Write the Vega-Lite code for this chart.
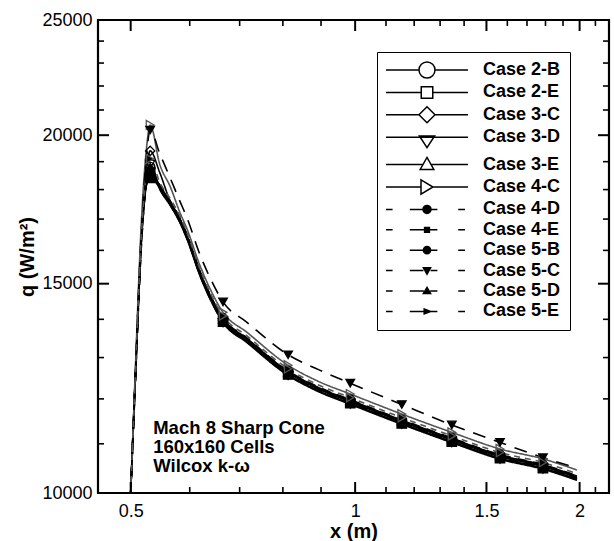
{
  "$schema": "https://vega.github.io/schema/vega-lite/v6.json",
  "width": 511,
  "height": 473,
  "autosize": {"type": "none"},
  "padding": {"left": 98, "top": 20, "right": 5, "bottom": 48},
  "background": "white",
  "datasets": {
    "curves": [
      {"x": 0.5, "Case 2-B": 10000, "Case 2-E": 10000, "Case 3-C": 10000, "Case 3-D": 10000, "Case 3-E": 10000, "Case 4-C": 10000, "Case 4-D": 10000, "Case 4-E": 10000, "Case 5-B": 10000, "Case 5-C": 10000, "Case 5-D": 10000, "Case 5-E": 10000},
      {"x": 0.507, "Case 2-B": 12400, "Case 2-E": 12350, "Case 3-C": 12500, "Case 3-D": 12400, "Case 3-E": 12380, "Case 4-C": 12600, "Case 4-D": 12300, "Case 4-E": 12300, "Case 5-B": 12450, "Case 5-C": 12500, "Case 5-D": 12420, "Case 5-E": 12480},
      {"x": 0.517, "Case 2-B": 16400, "Case 2-E": 16300, "Case 3-C": 16600, "Case 3-D": 16450, "Case 3-E": 16380, "Case 4-C": 17000, "Case 4-D": 16200, "Case 4-E": 16250, "Case 5-B": 16500, "Case 5-C": 16700, "Case 5-D": 16420, "Case 5-E": 16550},
      {"x": 0.525, "Case 2-B": 18300, "Case 2-E": 18200, "Case 3-C": 18700, "Case 3-D": 18350, "Case 3-E": 18250, "Case 4-C": 19500, "Case 4-D": 18200, "Case 4-E": 18150, "Case 5-B": 18300, "Case 5-C": 19200, "Case 5-D": 18320, "Case 5-E": 18600},
      {"x": 0.531, "Case 2-B": 18800, "Case 2-E": 18600, "Case 3-C": 19400, "Case 3-D": 18900, "Case 3-E": 18700, "Case 4-C": 20400, "Case 4-D": 18500, "Case 4-E": 18400, "Case 5-B": 18600, "Case 5-C": 20200, "Case 5-D": 18800, "Case 5-E": 19100},
      {"x": 0.547, "Case 2-B": 18100, "Case 2-E": 18046, "Case 3-C": 18600, "Case 3-D": 18010, "Case 3-E": 18136, "Case 4-C": 18900, "Case 4-D": 18118, "Case 4-E": 18064, "Case 5-B": 18172, "Case 5-C": 19300, "Case 5-D": 18028, "Case 5-E": 18245},
      {"x": 0.565, "Case 2-B": 17540, "Case 2-E": 17487, "Case 3-C": 17593, "Case 3-D": 17452, "Case 3-E": 17575, "Case 4-C": 18100, "Case 4-D": 17558, "Case 4-E": 17505, "Case 5-B": 17610, "Case 5-C": 18400, "Case 5-D": 17470, "Case 5-E": 17680},
      {"x": 0.582, "Case 2-B": 16970, "Case 2-E": 16919, "Case 3-C": 17021, "Case 3-D": 16885, "Case 3-E": 17004, "Case 4-C": 17225, "Case 4-D": 16987, "Case 4-E": 16936, "Case 5-B": 17038, "Case 5-C": 17600, "Case 5-D": 16902, "Case 5-E": 17106},
      {"x": 0.595, "Case 2-B": 16430, "Case 2-E": 16381, "Case 3-C": 16479, "Case 3-D": 16348, "Case 3-E": 16463, "Case 4-C": 16676, "Case 4-D": 16446, "Case 4-E": 16397, "Case 5-B": 16496, "Case 5-C": 17040, "Case 5-D": 16364, "Case 5-E": 16561},
      {"x": 0.619, "Case 2-B": 15320, "Case 2-E": 15274, "Case 3-C": 15366, "Case 3-D": 15243, "Case 3-E": 15351, "Case 4-C": 15550, "Case 4-D": 15335, "Case 4-E": 15289, "Case 5-B": 15381, "Case 5-C": 15880, "Case 5-D": 15259, "Case 5-E": 15443},
      {"x": 0.639, "Case 2-B": 14630, "Case 2-E": 14586, "Case 3-C": 14674, "Case 3-D": 14557, "Case 3-E": 14659, "Case 4-C": 14849, "Case 4-D": 14645, "Case 4-E": 14601, "Case 5-B": 14689, "Case 5-C": 15170, "Case 5-D": 14571, "Case 5-E": 14747},
      {"x": 0.665, "Case 2-B": 13980, "Case 2-E": 13938, "Case 3-C": 14022, "Case 3-D": 13910, "Case 3-E": 14008, "Case 4-C": 14190, "Case 4-D": 13994, "Case 4-E": 13952, "Case 5-B": 14036, "Case 5-C": 14480, "Case 5-D": 13924, "Case 5-E": 14092},
      {"x": 0.716, "Case 2-B": 13450, "Case 2-E": 13410, "Case 3-C": 13490, "Case 3-D": 13383, "Case 3-E": 13477, "Case 4-C": 13652, "Case 4-D": 13463, "Case 4-E": 13423, "Case 5-B": 13504, "Case 5-C": 13920, "Case 5-D": 13396, "Case 5-E": 13558},
      {"x": 0.813, "Case 2-B": 12620, "Case 2-E": 12582, "Case 3-C": 12658, "Case 3-D": 12557, "Case 3-E": 12645, "Case 4-C": 12809, "Case 4-D": 12633, "Case 4-E": 12595, "Case 5-B": 12670, "Case 5-C": 13070, "Case 5-D": 12570, "Case 5-E": 12721},
      {"x": 0.893, "Case 2-B": 12230, "Case 2-E": 12193, "Case 3-C": 12267, "Case 3-D": 12169, "Case 3-E": 12254, "Case 4-C": 12413, "Case 4-D": 12242, "Case 4-E": 12206, "Case 5-B": 12279, "Case 5-C": 12700, "Case 5-D": 12181, "Case 5-E": 12328},
      {"x": 0.985, "Case 2-B": 11935, "Case 2-E": 11899, "Case 3-C": 11971, "Case 3-D": 11875, "Case 3-E": 11959, "Case 4-C": 12114, "Case 4-D": 11947, "Case 4-E": 11911, "Case 5-B": 11983, "Case 5-C": 12370, "Case 5-D": 11887, "Case 5-E": 12030},
      {"x": 1.155, "Case 2-B": 11480, "Case 2-E": 11446, "Case 3-C": 11514, "Case 3-D": 11423, "Case 3-E": 11503, "Case 4-C": 11652, "Case 4-D": 11491, "Case 4-E": 11457, "Case 5-B": 11526, "Case 5-C": 11870, "Case 5-D": 11434, "Case 5-E": 11572},
      {"x": 1.348, "Case 2-B": 11080, "Case 2-E": 11047, "Case 3-C": 11113, "Case 3-D": 11025, "Case 3-E": 11102, "Case 4-C": 11246, "Case 4-D": 11091, "Case 4-E": 11058, "Case 5-B": 11124, "Case 5-C": 11410, "Case 5-D": 11036, "Case 5-E": 11169},
      {"x": 1.564, "Case 2-B": 10730, "Case 2-E": 10698, "Case 3-C": 10762, "Case 3-D": 10676, "Case 3-E": 10751, "Case 4-C": 10891, "Case 4-D": 10741, "Case 4-E": 10709, "Case 5-B": 10773, "Case 5-C": 11030, "Case 5-D": 10687, "Case 5-E": 10816},
      {"x": 1.786, "Case 2-B": 10525, "Case 2-E": 10493, "Case 3-C": 10557, "Case 3-D": 10472, "Case 3-E": 10546, "Case 4-C": 10683, "Case 4-D": 10536, "Case 4-E": 10504, "Case 5-B": 10567, "Case 5-C": 10710, "Case 5-D": 10483, "Case 5-E": 10609},
      {"x": 1.984, "Case 2-B": 10300, "Case 2-E": 10269, "Case 3-C": 10331, "Case 3-D": 10249, "Case 3-E": 10321, "Case 4-C": 10455, "Case 4-D": 10310, "Case 4-E": 10279, "Case 5-B": 10341, "Case 5-C": 10500, "Case 5-D": 10259, "Case 5-E": 10382}
    ],
    "xmajor": [{"v": 0.5}, {"v": 1}, {"v": 1.5}, {"v": 2}],
    "xminor": [{"v": 0.6}, {"v": 0.7}, {"v": 0.8}, {"v": 0.9}, {"v": 1.1}, {"v": 1.2}, {"v": 1.3}, {"v": 1.4}, {"v": 1.6}, {"v": 1.7}, {"v": 1.8}, {"v": 1.9}, {"v": 2.1}],
    "ymajor": [{"v": 10000}, {"v": 15000}, {"v": 20000}, {"v": 25000}],
    "yminor": [{"v": 11000}, {"v": 12000}, {"v": 13000}, {"v": 14000}, {"v": 16000}, {"v": 17000}, {"v": 18000}, {"v": 19000}, {"v": 21000}, {"v": 22000}, {"v": 23000}, {"v": 24000}]
  },
  "config": {
    "view": {"stroke": "black", "strokeWidth": 2.2},
    "font": "Liberation Sans",
    "axis": {
      "domain": false,
      "labelFont": "Liberation Sans",
      "labelFontSize": 18,
      "labelColor": "black",
      "labelFlush": false,
      "labelOverlap": false,
      "titleFont": "Liberation Sans",
      "titleFontSize": 20,
      "titleFontWeight": "bold",
      "titleColor": "black",
      "grid": false
    },
    "legend": {
      "orient": "none",
      "legendX": 279,
      "legendY": 32,
      "direction": "vertical",
      "padding": 9,
      "rowPadding": 2.4,
      "symbolSize": 256,
      "symbolOffset": 32,
      "labelOffset": 47,
      "labelFont": "Liberation Sans",
      "labelFontSize": 18,
      "labelFontWeight": "bold",
      "labelColor": "black",
      "labelLimit": 0,
      "fillColor": "white",
      "strokeColor": "black",
      "symbolOpacity": 1,
      "symbolStrokeWidth": 1.5,
      "symbolStrokeColor": "black",
      "symbolFillColor": "white"
    }
  },
  "layer": [
    {
      "data": {"name": "curves"},
      "transform": [{"fold": ["Case 2-B", "Case 2-E", "Case 3-C", "Case 3-D", "Case 3-E", "Case 4-C", "Case 4-D", "Case 4-E", "Case 5-B", "Case 5-C", "Case 5-D", "Case 5-E"], "as": ["case", "q"]}],
      "mark": {"type": "line", "interpolate": "monotone"},
      "encoding": {
        "x": {
          "field": "x", "type": "quantitative",
          "scale": {"type": "log", "domain": [0.452, 2.19], "nice": false},
          "axis": {"orient": "bottom", "title": "x (m)", "titlePadding": 1, "ticks": false, "tickSize": 0, "values": [0.5, 1, 1.5, 2], "format": ".1~f", "labelPadding": 9}
        },
        "y": {
          "field": "q", "type": "quantitative",
          "scale": {"type": "log", "domain": [10000, 25000], "nice": false},
          "axis": {"orient": "left", "title": "q (W/m²)", "titlePadding": 4, "ticks": false, "tickSize": 0, "values": [10000, 15000, 20000, 25000], "format": "d", "labelPadding": 6}
        },
        "stroke": {
          "field": "case", "type": "nominal", "legend": null,
          "scale": {"domain": ["Case 2-B", "Case 2-E", "Case 3-C", "Case 3-D", "Case 3-E", "Case 4-C", "Case 4-D", "Case 4-E", "Case 5-B", "Case 5-C", "Case 5-D", "Case 5-E"],
                    "range": ["black", "black", "black", "black", "black", "#555555", "black", "black", "black", "black", "black", "#555555"]}
        },
        "strokeWidth": {
          "field": "case", "type": "nominal", "legend": null,
          "scale": {"domain": ["Case 2-B", "Case 2-E", "Case 3-C", "Case 3-D", "Case 3-E", "Case 4-C", "Case 4-D", "Case 4-E", "Case 5-B", "Case 5-C", "Case 5-D", "Case 5-E"],
                    "range": [1.6, 1.6, 1.6, 1.6, 1.6, 1.1, 1.6, 1.6, 1.6, 2.2, 1.6, 1.1]}
        },
        "strokeDash": {
          "field": "case", "type": "nominal", "legend": null,
          "scale": {"domain": ["Case 2-B", "Case 2-E", "Case 3-C", "Case 3-D", "Case 3-E", "Case 4-C", "Case 4-D", "Case 4-E", "Case 5-B", "Case 5-C", "Case 5-D", "Case 5-E"],
                    "range": [[1, 0], [1, 0], [1, 0], [1, 0], [1, 0], [1, 0], [9, 7], [9, 7], [9, 7], [13, 9], [9, 7], [6, 5]]}
        }
      }
    },
    {
      "data": {"name": "curves"},
      "transform": [
        {"fold": ["Case 2-B", "Case 2-E", "Case 3-C", "Case 3-D", "Case 3-E", "Case 4-C", "Case 4-D", "Case 4-E", "Case 5-B", "Case 5-C", "Case 5-D", "Case 5-E"], "as": ["case", "q"]},
        {"filter": {"field": "x", "oneOf": [0.531, 0.665, 0.813, 0.985, 1.155, 1.348, 1.564, 1.786]}}
      ],
      "mark": {"type": "point", "strokeWidth": 1.3, "opacity": 1},
      "encoding": {
        "x": {"field": "x", "type": "quantitative", "scale": {"type": "log", "domain": [0.452, 2.19], "nice": false}, "axis": null},
        "y": {"field": "q", "type": "quantitative", "scale": {"type": "log", "domain": [10000, 25000], "nice": false}, "axis": null},
        "shape": {
          "field": "case", "type": "nominal", "legend": null,
          "scale": {"domain": ["Case 2-B", "Case 2-E", "Case 3-C", "Case 3-D", "Case 3-E", "Case 4-C", "Case 4-D", "Case 4-E", "Case 5-B", "Case 5-C", "Case 5-D", "Case 5-E"],
                    "range": ["circle", "square", "diamond", "triangle-down", "triangle-up", "triangle-right", "circle", "square", "circle", "triangle-down", "triangle-up", "triangle-right"]}
        },
        "fill": {
          "field": "case", "type": "nominal", "legend": null,
          "scale": {"domain": ["Case 2-B", "Case 2-E", "Case 3-C", "Case 3-D", "Case 3-E", "Case 4-C", "Case 4-D", "Case 4-E", "Case 5-B", "Case 5-C", "Case 5-D", "Case 5-E"],
                    "range": ["transparent", "transparent", "transparent", "transparent", "transparent", "transparent", "black", "black", "black", "black", "black", "black"]}
        },
        "stroke": {
          "field": "case", "type": "nominal", "legend": null,
          "scale": {"domain": ["Case 2-B", "Case 2-E", "Case 3-C", "Case 3-D", "Case 3-E", "Case 4-C", "Case 4-D", "Case 4-E", "Case 5-B", "Case 5-C", "Case 5-D", "Case 5-E"],
                    "range": ["black", "black", "black", "black", "black", "#555555", "black", "black", "black", "black", "black", "#555555"]}
        },
        "size": {
          "field": "case", "type": "nominal", "legend": null,
          "scale": {"domain": ["Case 2-B", "Case 2-E", "Case 3-C", "Case 3-D", "Case 3-E", "Case 4-C", "Case 4-D", "Case 4-E", "Case 5-B", "Case 5-C", "Case 5-D", "Case 5-E"],
                    "range": [90, 70, 100, 80, 80, 80, 30, 18, 26, 30, 30, 25]}
        }
      }
    },
    {
      "data": {"name": "curves"},
      "transform": [
        {"fold": ["Case 2-B", "Case 2-E", "Case 3-C", "Case 3-D", "Case 3-E", "Case 4-C", "Case 4-D", "Case 4-E", "Case 5-B", "Case 5-C", "Case 5-D", "Case 5-E"], "as": ["case", "q"]},
        {"filter": {"field": "x", "oneOf": [0.531, 0.665, 0.813, 0.985, 1.155, 1.348, 1.564, 1.786]}}
      ],
      "mark": {"type": "point", "opacity": 0, "stroke": "black", "strokeWidth": 1.5},
      "encoding": {
        "x": {"field": "x", "type": "quantitative", "scale": {"type": "log", "domain": [0.452, 2.19], "nice": false}, "axis": null},
        "y": {"field": "q", "type": "quantitative", "scale": {"type": "log", "domain": [10000, 25000], "nice": false}, "axis": null},
        "shape": {
          "field": "case", "type": "nominal", "legend": {"title": null},
          "scale": {"domain": ["Case 2-B", "Case 2-E", "Case 3-C", "Case 3-D", "Case 3-E", "Case 4-C", "Case 4-D", "Case 4-E", "Case 5-B", "Case 5-C", "Case 5-D", "Case 5-E"],
                    "range": [
                      "M-5.125,0H-1M1,0H5.125M1,0A1,1,0,1,1,-1,0A1,1,0,1,1,1,0Z",
                      "M-5.125,0H-0.72M0.72,0H5.125M-0.72,-0.72H0.72V0.72H-0.72Z",
                      "M-5.125,0H-1M1,0H5.125M0,-1L1,0L0,1L-1,0Z",
                      "M-5.125,0H5.125M-0.95,-0.15H0.95L0,1.3Z",
                      "M-5.125,0H-0.51M0.51,0H5.125M0,-0.9L0.85,0.6H-0.85Z",
                      "M-5.125,0H-0.75M0.75,0H5.125M-0.75,-0.9L0.75,0L-0.75,0.9Z",
                      "M-5.125,0H-4.3M-2.15,0H-0.5M0.5,0H1.3M3.9,0H4.75M0.5,0A0.5,0.5,0,1,1,-0.5,0A0.5,0.5,0,1,1,0.5,0Z",
                      "M-5.125,0H-4.3M-2.15,0H-0.3M0.3,0H1.3M3.9,0H4.75M-0.3,-0.3H0.3V0.3H-0.3Z",
                      "M-5.125,0H-4.3M-2.15,0H-0.45M0.45,0H1.3M3.9,0H4.75M0.45,0A0.45,0.45,0,1,1,-0.45,0A0.45,0.45,0,1,1,0.45,0Z",
                      "M-5.125,0H-4.3M-2.15,0H-0.45M0.45,0H1.3M3.9,0H4.75M-0.45,-0.35H0.45L0,0.45Z",
                      "M-5.125,0H-4.3M-2.15,0H-0.4M0.4,0H1.3M3.9,0H4.75M0,-0.45L0.45,0.3H-0.45Z",
                      "M-5.125,0H-4.3M-2.15,0H-0.35M0.45,0H1.3M3.9,0H4.75M-0.35,-0.3L0.45,0L-0.35,0.3Z"
                    ]}
        },
        "fill": {
          "field": "case", "type": "nominal", "legend": {"title": null},
          "scale": {"domain": ["Case 2-B", "Case 2-E", "Case 3-C", "Case 3-D", "Case 3-E", "Case 4-C", "Case 4-D", "Case 4-E", "Case 5-B", "Case 5-C", "Case 5-D", "Case 5-E"],
                    "range": ["white", "white", "white", "white", "white", "white", "black", "black", "black", "black", "black", "black"]}
        }
      }
    },
    {
      "data": {"name": "xmajor"},
      "mark": {"type": "rule", "color": "black", "strokeWidth": 2},
      "encoding": {
        "x": {"field": "v", "type": "quantitative", "scale": {"type": "log", "domain": [0.452, 2.19], "nice": false}, "axis": null},
        "y": {"datum": 10000, "type": "quantitative", "scale": {"type": "log", "domain": [10000, 25000], "nice": false}, "axis": null},
        "y2": {"datum": 10215}
      }
    },
    {
      "data": {"name": "xmajor"},
      "mark": {"type": "rule", "color": "black", "strokeWidth": 2},
      "encoding": {
        "x": {"field": "v", "type": "quantitative", "scale": {"type": "log", "domain": [0.452, 2.19], "nice": false}, "axis": null},
        "y": {"datum": 25000, "type": "quantitative", "scale": {"type": "log", "domain": [10000, 25000], "nice": false}, "axis": null},
        "y2": {"datum": 24473}
      }
    },
    {
      "data": {"name": "xminor"},
      "mark": {"type": "rule", "color": "black", "strokeWidth": 1.6},
      "encoding": {
        "x": {"field": "v", "type": "quantitative", "scale": {"type": "log", "domain": [0.452, 2.19], "nice": false}, "axis": null},
        "y": {"datum": 10000, "type": "quantitative", "scale": {"type": "log", "domain": [10000, 25000], "nice": false}, "axis": null},
        "y2": {"datum": 10117}
      }
    },
    {
      "data": {"name": "xminor"},
      "mark": {"type": "rule", "color": "black", "strokeWidth": 1.6},
      "encoding": {
        "x": {"field": "v", "type": "quantitative", "scale": {"type": "log", "domain": [0.452, 2.19], "nice": false}, "axis": null},
        "y": {"datum": 25000, "type": "quantitative", "scale": {"type": "log", "domain": [10000, 25000], "nice": false}, "axis": null},
        "y2": {"datum": 24711}
      }
    },
    {
      "data": {"name": "ymajor"},
      "mark": {"type": "rule", "color": "black", "strokeWidth": 2},
      "encoding": {
        "y": {"field": "v", "type": "quantitative", "scale": {"type": "log", "domain": [10000, 25000], "nice": false}, "axis": null},
        "x": {"datum": 0.452, "type": "quantitative", "scale": {"type": "log", "domain": [0.452, 2.19], "nice": false}, "axis": null},
        "x2": {"datum": 0.4676}
      }
    },
    {
      "data": {"name": "ymajor"},
      "mark": {"type": "rule", "color": "black", "strokeWidth": 2},
      "encoding": {
        "y": {"field": "v", "type": "quantitative", "scale": {"type": "log", "domain": [10000, 25000], "nice": false}, "axis": null},
        "x": {"datum": 2.19, "type": "quantitative", "scale": {"type": "log", "domain": [0.452, 2.19], "nice": false}, "axis": null},
        "x2": {"datum": 2.1168}
      }
    },
    {
      "data": {"name": "yminor"},
      "mark": {"type": "rule", "color": "black", "strokeWidth": 1.6},
      "encoding": {
        "y": {"field": "v", "type": "quantitative", "scale": {"type": "log", "domain": [10000, 25000], "nice": false}, "axis": null},
        "x": {"datum": 0.452, "type": "quantitative", "scale": {"type": "log", "domain": [0.452, 2.19], "nice": false}, "axis": null},
        "x2": {"datum": 0.4605}
      }
    },
    {
      "data": {"name": "yminor"},
      "mark": {"type": "rule", "color": "black", "strokeWidth": 1.6},
      "encoding": {
        "y": {"field": "v", "type": "quantitative", "scale": {"type": "log", "domain": [10000, 25000], "nice": false}, "axis": null},
        "x": {"datum": 2.19, "type": "quantitative", "scale": {"type": "log", "domain": [0.452, 2.19], "nice": false}, "axis": null},
        "x2": {"datum": 2.1498}
      }
    },
    {
      "data": {"values": [{"note": "Mach 8 Sharp Cone"}]},
      "mark": {"type": "text", "text": ["Mach 8 Sharp Cone", "160x160 Cells", "Wilcox k-ω"], "align": "left", "baseline": "top", "font": "Liberation Sans", "fontWeight": "bold", "fontSize": 18.5, "lineHeight": 19, "color": "black"},
      "encoding": {
        "x": {"datum": 0.536, "type": "quantitative", "scale": {"type": "log", "domain": [0.452, 2.19], "nice": false}, "axis": null},
        "y": {"datum": 11550, "type": "quantitative", "scale": {"type": "log", "domain": [10000, 25000], "nice": false}, "axis": null}
      }
    }
  ],
  "resolve": {
    "scale": {"shape": "independent", "fill": "independent", "stroke": "independent", "size": "independent", "strokeWidth": "independent", "strokeDash": "independent"},
    "axis": {"x": "independent", "y": "independent"}
  }
}
